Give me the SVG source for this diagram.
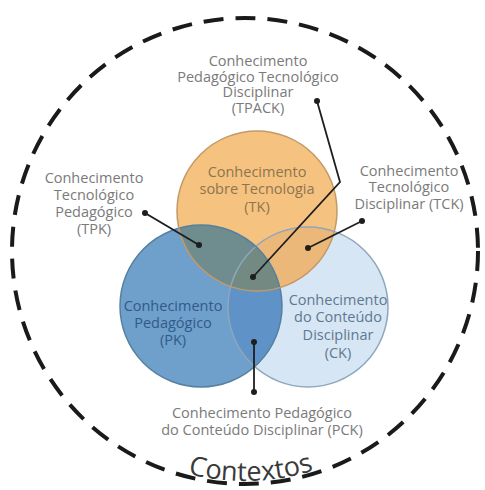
<svg xmlns="http://www.w3.org/2000/svg" width="485" height="490" viewBox="0 0 485 490">
<defs>
<style>
.lbl{font-family:"Open Sans","Noto Sans","DejaVu Sans",sans-serif;font-size:14.5px;fill:#7a7a7a;text-anchor:middle}
.tk{fill:#8d7550}
.pk{fill:#2f5b88}
.ck{fill:#5f7890}
.lead{fill:none;stroke:#1e1e1e;stroke-width:1.8;marker-start:url(#dot);marker-end:url(#dot)}
.ring{fill:none;stroke-width:1.5}
</style>
<marker id="dot" viewBox="-4 -4 8 8" markerWidth="8" markerHeight="8" markerUnits="userSpaceOnUse" refX="0" refY="0"><circle r="3" fill="#1e1e1e"/></marker>
<clipPath id="cTK"><circle cx="257" cy="211" r="80"/></clipPath>
<clipPath id="cPK"><circle cx="201" cy="306" r="81"/></clipPath>
<clipPath id="cCK"><circle cx="308" cy="307" r="80"/></clipPath>
</defs>
<rect width="485" height="490" fill="#ffffff"/>
<g id="contextos">
<circle cx="245" cy="251" r="233" fill="none" stroke="#1a1a1a" stroke-width="4" stroke-dasharray="20 12"/>
<path id="ctxArc" d="M130,450.2 A230,230 0 0,0 360,450.2" fill="none"/>
<text font-family="'Open Sans','Noto Sans',sans-serif" font-size="27" fill="#3a3a3a" text-anchor="middle"><textPath href="#ctxArc" startOffset="52.5%">Contextos</textPath></text>
</g>
<g id="ck">
<circle cx="308" cy="307" r="80" fill="#d6e6f4"/>
</g>
<g id="pk">
<circle cx="201" cy="306" r="81" fill="#6f9fcb"/>
</g>
<g id="tk">
<circle cx="257" cy="211" r="80" fill="#f5c27f"/>
</g>
<g id="pck">
<circle cx="201" cy="306" r="81" fill="#5f93c8" clip-path="url(#cCK)"/>
</g>
<g id="tck">
<circle cx="257" cy="211" r="80" fill="#ecb879" clip-path="url(#cCK)"/>
</g>
<g id="tpk">
<circle cx="257" cy="211" r="80" fill="#6f8c8e" clip-path="url(#cPK)"/>
</g>
<g id="tpack">
<g clip-path="url(#cCK)"><circle cx="257" cy="211" r="80" fill="#728a82" clip-path="url(#cPK)"/></g>
</g>
<g id="outlines">
<circle class="ring" cx="308" cy="307" r="80" stroke="#8fa6bb"/>
<circle class="ring" cx="201" cy="306" r="81" stroke="#56809f"/>
<circle class="ring" cx="257" cy="211" r="80" stroke="#c29a68"/>
</g>
<g id="labels-inner">
<text class="lbl tk" x="257" y="177">Conhecimento</text>
<text class="lbl tk" x="257" y="194">sobre Tecnologia</text>
<text class="lbl tk" x="257" y="212">(TK)</text>
<text class="lbl pk" x="173" y="311">Conhecimento</text>
<text class="lbl pk" x="173" y="328">Pedagógico</text>
<text class="lbl pk" x="173" y="345">(PK)</text>
<text class="lbl ck" x="338" y="305">Conhecimento</text>
<text class="lbl ck" x="338" y="322">do Conteúdo</text>
<text class="lbl ck" x="338" y="340">Disciplinar</text>
<text class="lbl ck" x="338" y="358">(CK)</text>
</g>
<g id="label-tpack">
<text class="lbl" x="258" y="66">Conhecimento</text>
<text class="lbl" x="258" y="81.5">Pedagógico Tecnológico</text>
<text class="lbl" x="258" y="97">Disciplinar</text>
<text class="lbl" x="258" y="112.5">(TPACK)</text>
</g>
<g id="label-tpk">
<text class="lbl" x="94" y="183">Conhecimento</text>
<text class="lbl" x="94" y="200">Tecnológico</text>
<text class="lbl" x="94" y="217">Pedagógico</text>
<text class="lbl" x="94" y="234">(TPK)</text>
</g>
<g id="label-tck">
<text class="lbl" x="409" y="176">Conhecimento</text>
<text class="lbl" x="409" y="192">Tecnológico</text>
<text class="lbl" x="409" y="209">Disciplinar (TCK)</text>
</g>
<g id="label-pck">
<text class="lbl" x="262" y="418">Conhecimento Pedagógico</text>
<text class="lbl" x="262" y="435">do Conteúdo Disciplinar (PCK)</text>
</g>
<g id="connectors">
<polyline class="lead" points="317,101 340,182 253,277"/>
<line class="lead" x1="145" y1="213" x2="199" y2="245"/>
<line class="lead" x1="362" y1="221" x2="308" y2="248"/>
<line class="lead" x1="254" y1="392" x2="254" y2="342"/>
</g>
</svg>
